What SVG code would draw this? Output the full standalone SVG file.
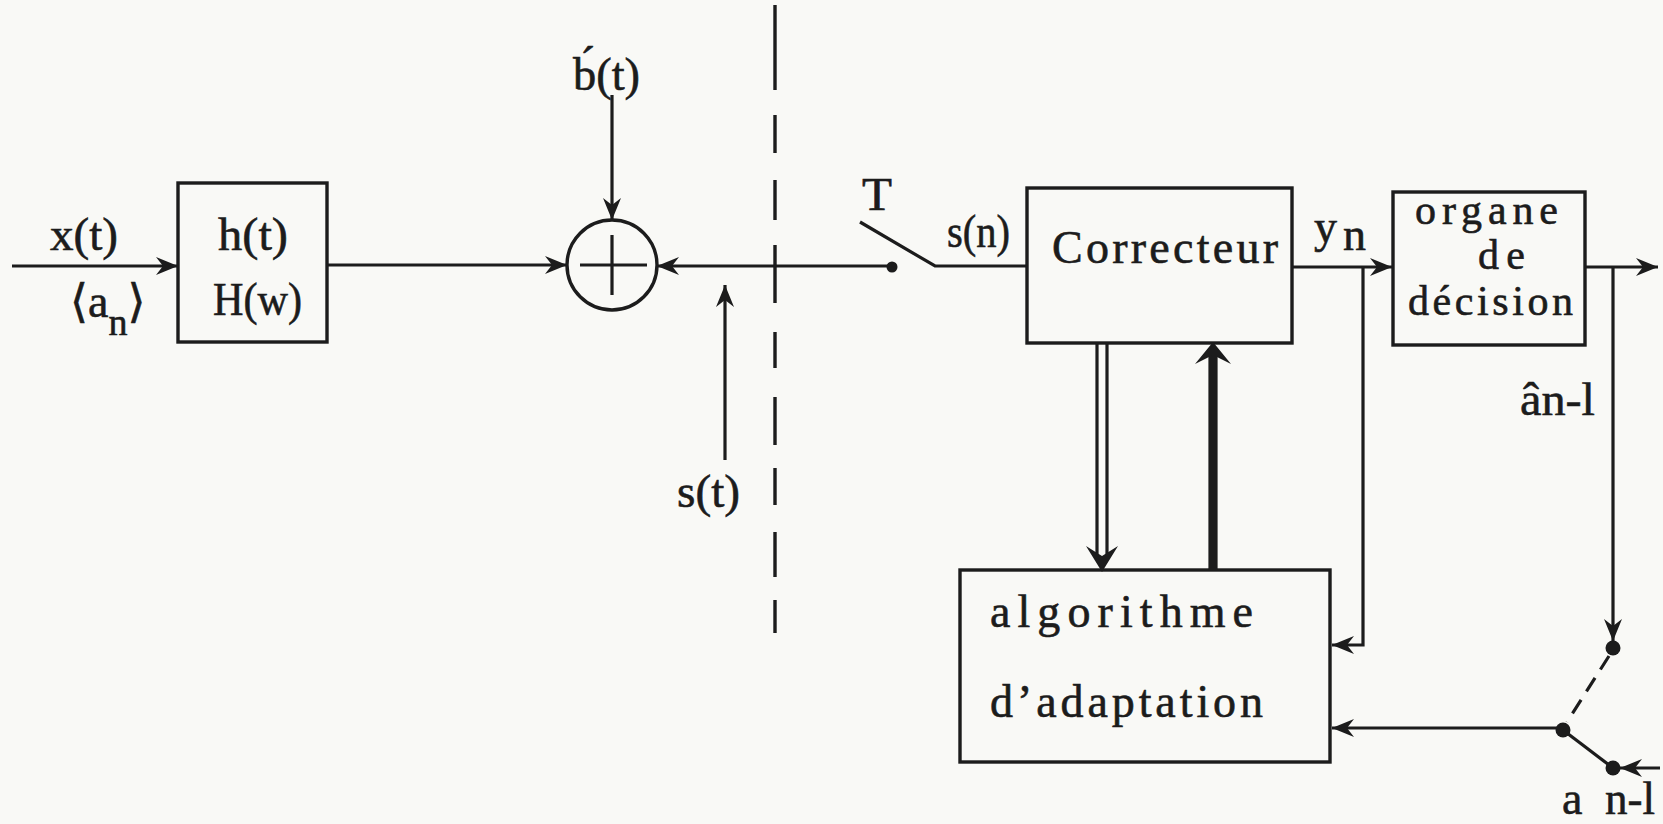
<svg xmlns="http://www.w3.org/2000/svg" width="1663" height="824" viewBox="0 0 1663 824">
  <style>
    .bg { fill: #f9f9f6; }
    .box { fill: none; stroke: #1c1c1c; stroke-width: 3.4; }
    .ln { fill: none; stroke: #1c1c1c; stroke-width: 3.2; }
    .dash { fill: none; stroke: #1c1c1c; stroke-width: 3.4; }
    .dot { fill: #1c1c1c; }
    .lbl { font-family: "Liberation Serif", "DejaVu Serif", serif; fill: #1c1c1c; stroke: #1c1c1c; stroke-width: 0.6; font-size: 46px; }
    .dec { font-size: 42px; }
  </style>
  <defs>
    <marker id="arr" markerUnits="userSpaceOnUse" markerWidth="24" markerHeight="18" refX="22" refY="9" orient="auto">
      <path d="M0,0 L22,9 L0,18 L7,9 Z" fill="#1c1c1c"/>
    </marker>
  </defs>

  <rect class="bg" x="0" y="0" width="1663" height="824"/>

  <!-- channel filter -->
  <g id="filter">
    <rect class="box" x="178" y="183" width="149" height="159"/>
    <text class="lbl" x="218" y="250" textLength="70" lengthAdjust="spacingAndGlyphs">h(t)</text>
    <text class="lbl" x="213" y="315" textLength="89" lengthAdjust="spacingAndGlyphs">H(w)</text>
  </g>

  <!-- summing node -->
  <g id="sum">
    <circle class="box" cx="612" cy="265" r="45"/>
    <path class="ln" d="M580,265 H647 M612,235 V295"/>
  </g>

  <!-- sampler -->
  <g id="sampler">
    <circle class="dot" cx="892" cy="267" r="5.5"/>
    <path class="ln" d="M860,222 L935,266 H1027"/>
    <text class="lbl" x="862" y="210" textLength="30" lengthAdjust="spacingAndGlyphs">T</text>
  </g>

  <!-- equalizer -->
  <g id="correcteur">
    <rect class="box" x="1027" y="188" width="265" height="155"/>
    <text class="lbl" x="1052" y="263" textLength="226" lengthAdjust="spacing">Correcteur</text>
  </g>

  <!-- decision device -->
  <g id="decision">
    <rect class="box" x="1393" y="192" width="192" height="153"/>
    <text class="lbl dec" x="1415" y="224" textLength="143" lengthAdjust="spacing">organe</text>
    <text class="lbl dec" x="1478" y="269" textLength="47" lengthAdjust="spacing">de</text>
    <text class="lbl dec" x="1408" y="315" textLength="165" lengthAdjust="spacing">décision</text>
  </g>

  <!-- adaptation block -->
  <g id="adaptation">
    <rect class="box" x="960" y="570" width="370" height="192"/>
    <text class="lbl" x="990" y="627" font-size="50" textLength="263" lengthAdjust="spacing">algorithme</text>
    <text class="lbl" x="990" y="717" font-size="50" textLength="273" lengthAdjust="spacing">d’adaptation</text>
  </g>

  <!-- decision switch -->
  <g id="switch">
    <circle class="dot" cx="1613" cy="648" r="7.5"/>
    <circle class="dot" cx="1563" cy="730" r="7.5"/>
    <circle class="dot" cx="1613" cy="768" r="7.5"/>
    <path class="ln" d="M1563,730 L1613,768"/>
    <path class="ln" stroke-dasharray="16 10" d="M1609,656 L1567,722"/>
  </g>

  <!-- signal labels -->
  <g id="labels">
    <text class="lbl" x="50" y="250" textLength="68" lengthAdjust="spacingAndGlyphs">x(t)</text>
    <text class="lbl" x="70" y="317">⟨a<tspan font-size="38" dy="18">n</tspan><tspan dy="-18">⟩</tspan></text>
    <text class="lbl" x="573" y="90" textLength="67" lengthAdjust="spacingAndGlyphs">b&#x301;(t)</text>
    <text class="lbl" x="677" y="507" textLength="63" lengthAdjust="spacingAndGlyphs">s(t)</text>
    <text class="lbl" x="947" y="247" textLength="63" lengthAdjust="spacingAndGlyphs">s(n)</text>
    <text class="lbl" x="1314" y="242">y<tspan x="1343" y="250">n</tspan></text>
    <text class="lbl" x="1520" y="415" textLength="75" lengthAdjust="spacingAndGlyphs">ân-l</text>
    <text class="lbl" x="1562" y="814">a</text>
    <text class="lbl" x="1605" y="814" textLength="50" lengthAdjust="spacingAndGlyphs">n-l</text>
  </g>

  <!-- connectors -->
  <g id="connectors">
    <path class="ln" marker-end="url(#arr)" d="M12,266 H178"/>
    <path class="ln" marker-end="url(#arr)" d="M327,265 H567"/>
    <path class="ln" marker-end="url(#arr)" d="M612,95 V220"/>
    <path class="ln" marker-end="url(#arr)" d="M892,266 H657"/>
    <path class="ln" marker-end="url(#arr)" d="M725,460 V285"/>
    <path class="ln" marker-end="url(#arr)" d="M1292,267 H1392"/>
    <path class="ln" marker-end="url(#arr)" d="M1363,267 V645 H1332"/>
    <path class="ln" marker-end="url(#arr)" d="M1585,267 H1658"/>
    <path class="ln" marker-end="url(#arr)" d="M1613,267 V641"/>
    <path class="ln" marker-end="url(#arr)" d="M1660,768 H1620"/>
    <path class="ln" marker-end="url(#arr)" d="M1563,728 H1332"/>
    <!-- parameter path down: double line -->
    <path class="ln" stroke-width="2.8" d="M1097,343 V560 M1107,343 V560"/>
    <path class="dot" d="M1086,546 L1102,572 L1118,546 L1102,556 Z"/>
    <!-- signal path up: heavy line -->
    <path class="ln" stroke-width="2.8" d="M1210,570 V352 M1216,570 V352 M1213,570 V352"/>
    <path class="dot" d="M1195,364 L1213,342 L1231,364 L1213,355 Z"/>
    <!-- separation line -->
    <path class="dash" d="M775,5 V90 M775,115 V153 M775,180 V220 M775,245 V303 M775,332 V368 M775,397 V445 M775,468 V505 M775,532 V577 M775,600 V633"/>
  </g>
</svg>
